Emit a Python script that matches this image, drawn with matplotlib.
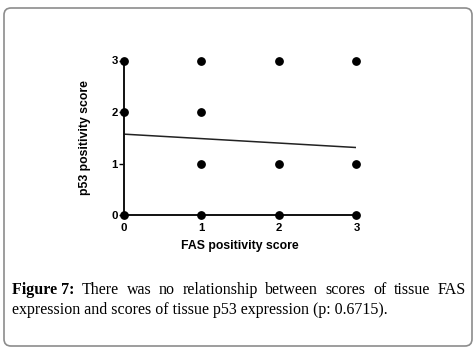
import matplotlib
matplotlib.use("Agg")
import matplotlib.pyplot as plt
from matplotlib.patches import FancyBboxPatch
from matplotlib.font_manager import FontProperties

# scatter data (FAS score vs p53 score)
fas_scores = [0, 0, 0, 1, 1, 1, 1, 2, 2, 2, 3, 3, 3]
p53_scores = [3, 2, 0, 3, 2, 1, 0, 3, 1, 0, 3, 1, 0]

# regression line end points
fit_x = [0, 3]
fit_y = [1.57, 1.31]

ticks = [0, 1, 2, 3]

caption_bold = "Figure 7:"
caption_line1 = "There was no relationship between scores of tissue FAS"
caption_line2 = "expression and scores of tissue p53 expression (p: 0.6715)."

W, H = 477, 353
fig = plt.figure(figsize=(W / 100, H / 100), dpi=100)

ax = fig.add_axes([124 / W, (H - 215) / H, (356.5 - 124) / W, (215 - 60.5) / H])
ax.plot(fit_x, fit_y, color="#222222", lw=1.1)
ax.scatter(fas_scores, p53_scores, s=28, color="black", zorder=3, clip_on=False)

ax.set_xlim(0, 3)
ax.set_ylim(0, 3)
ax.set_xticks(ticks)
ax.set_yticks(ticks)
for s in ["top", "right"]:
    ax.spines[s].set_visible(False)
for s in ["left", "bottom"]:
    ax.spines[s].set_linewidth(1.4)
    ax.spines[s].set_color("#111111")

tick_font = FontProperties(family="Liberation Sans", weight="bold", size=8.2)
ax.tick_params(axis="x", direction="out", length=2.5, width=1, pad=3.5)
ax.tick_params(axis="y", direction="out", length=3.5, width=1, pad=1)
for lab in ax.get_xticklabels() + ax.get_yticklabels():
    lab.set_fontproperties(tick_font)

ax.set_xlabel("FAS positivity score", fontfamily="Liberation Sans", fontweight="bold", fontsize=8.8)
ax.set_ylabel("p53 positivity score", fontfamily="Liberation Sans", fontweight="bold", fontsize=8.8)
ax.xaxis.set_label_coords(0.5, -0.165)
ax.xaxis.label.set_va("top")
ax.yaxis.set_label_coords(-0.142, 0.5)

# rounded border around everything
border = FancyBboxPatch((4, H - 346), 468, 338, boxstyle="round,pad=0,rounding_size=7",
                        transform=None, fill=False, edgecolor="#8c8c8c", lw=1.2)
fig.patches.append(border)

# caption, first line justified
cap_size = 11.5
x_left, x_right = 12, 466
y1 = (H - 294.5) / H
y2 = (H - 313.5) / H

fig.canvas.draw()
renderer = fig.canvas.get_renderer()
words = [(caption_bold, "bold")] + [(w, "normal") for w in caption_line1.split()]
texts = []
for w, wt in words:
    t = fig.text(0, y1, w, fontfamily="Liberation Serif", fontsize=cap_size, fontweight=wt, va="baseline")
    texts.append(t)
widths = [t.get_window_extent(renderer).width for t in texts]
gap = (x_right - x_left - sum(widths)) / (len(texts) - 1)
x = x_left
for t, wd in zip(texts, widths):
    t.set_x(x / W)
    x += wd + gap

fig.text(x_left / W, y2, caption_line2, fontfamily="Liberation Serif", fontsize=cap_size, va="baseline")

fig.savefig("out.png", dpi=100)
